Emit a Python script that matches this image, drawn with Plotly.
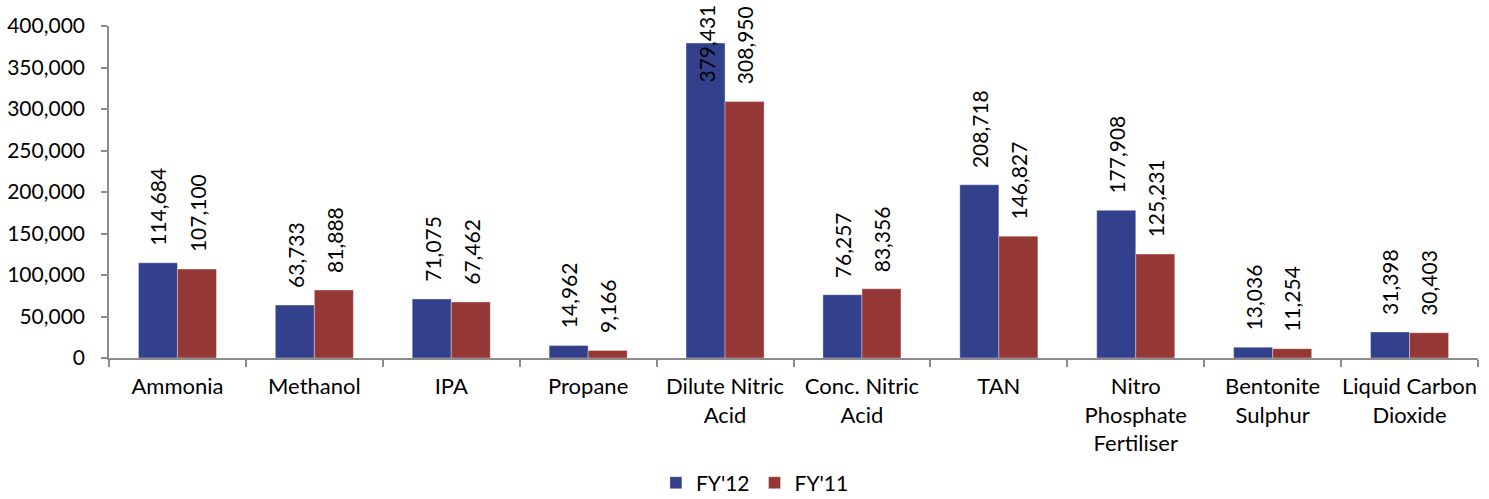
import plotly.graph_objects as go

# Production volumes (tonnes) by product
categories = [
    "Ammonia", "Methanol", "IPA", "Propane", "Dilute Nitric<br>Acid",
    "Conc. Nitric<br>Acid", "TAN", "Nitro<br>Phosphate<br>Fertiliser",
    "Bentonite<br>Sulphur", "Liquid Carbon<br>Dioxide",
]
fy12 = [114684, 63733, 71075, 14962, 379431, 76257, 208718, 177908, 13036, 31398]
fy11 = [107100, 81888, 67462, 9166, 308950, 83356, 146827, 125231, 11254, 30403]
series_names = ["FY'12", "FY'11"]
colors = ["#33408C", "#953735"]

W, H = 1489, 499
M = dict(l=109, r=11, t=26, b=141)
Y_MAX = 400000
FONT = "Lato"
FS = 21
XFS = 22
LFS = 21

plot_h = H - M["t"] - M["b"]
plot_w = W - M["l"] - M["r"]
bargap = 0.43
bar_px = plot_w / len(categories) * (1 - bargap) / 2

fig = go.Figure()
for name, vals, col in zip(series_names, [fy12, fy11], colors):
    fig.add_trace(go.Bar(
        x=categories, y=vals, name=name,
        marker=dict(color=col, line=dict(width=0.6, color="rgba(255,255,255,0.6)")),
    ))

# Rotated value labels above each bar; labels too tall for the space
# above the bar are pinned to the top of the figure.
label_gap = 15
label_len = 80
annotations = []
for si, vals in enumerate([fy12, fy11]):
    shift = (-0.5 if si == 0 else 0.5) * bar_px
    for cat, v in zip(categories, vals):
        top_px = M["t"] + plot_h * (1 - v / Y_MAX)
        common = dict(
            x=cat, xref="x", xshift=shift, text=f"{v:,}", showarrow=False,
            textangle=-90, font=dict(family=FONT, size=LFS, color="#000"),
            xanchor="center",
        )
        if top_px - label_gap - label_len < 0:
            annotations.append(dict(**common, y=1, yref="paper", yanchor="top",
                                    yshift=M["t"] - 3))
        else:
            annotations.append(dict(**common, y=v, yref="y", yanchor="bottom",
                                    yshift=label_gap))

fig.update_layout(
    width=W, height=H, margin=M,
    barmode="group", bargap=bargap, bargroupgap=0,
    plot_bgcolor="white", paper_bgcolor="white",
    font=dict(family=FONT, size=FS, color="#000"),
    annotations=annotations,
    showlegend=True,
    legend=dict(
        orientation="h", xref="container", yref="container",
        x=0.507, xanchor="center", y=0.032, yanchor="middle",
        font=dict(family=FONT, size=FS), itemwidth=30, traceorder="normal",
    ),
    xaxis=dict(
        type="category", showline=True, linecolor="#8c8c8c", linewidth=1.5,
        ticks="outside", tickson="boundaries", ticklen=7, tickcolor="#8c8c8c",
        tickwidth=1.5, showgrid=False, tickfont=dict(family=FONT, size=XFS),
        ticklabelstandoff=8, tickangle=0, automargin=False,
    ),
    yaxis=dict(
        range=[0, Y_MAX], tickvals=list(range(0, Y_MAX + 1, 50000)),
        tickformat=",d", showline=True, linecolor="#8c8c8c", linewidth=1.5,
        ticks="outside", ticklen=6, tickcolor="#8c8c8c", tickwidth=1.5,
        showgrid=False, zeroline=False, ticklabelstandoff=12,
        tickfont=dict(family=FONT, size=FS), automargin=False,
    ),
)

fig.write_html("out.html")
